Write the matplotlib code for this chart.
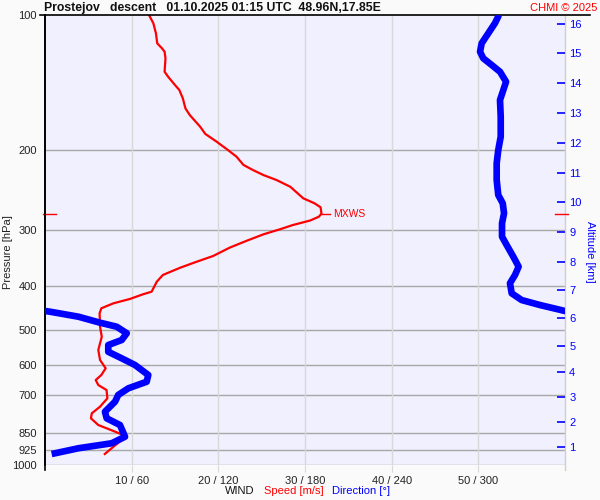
import numpy as np
import matplotlib
matplotlib.use('Agg')
import matplotlib.pyplot as plt

plt.rcParams['font.family'] = ['Liberation Sans', 'DejaVu Sans']

# wind speed profile [m/s] vs pressure [hPa]
speed_p = [100, 104.3, 109.8, 115.6, 118.6, 120.7, 124.8, 133.7, 137.1, 143.1,
           146.8, 153.1, 161.2, 166.8, 177.1, 183.8, 191.2, 199.5, 206.5, 215.4,
           221.1, 226.8, 232.6, 240.8, 255.5, 262.1, 267.5, 276.2, 280.7, 286.2,
           292.9, 299.4, 307.2, 317.3, 328.9, 343.2, 353.4, 364.4, 378.2, 391.4,
           412.0, 417.5, 427.6, 437.2, 448.5, 460.1, 492.8, 518.6, 555.2, 584.3,
           609.7, 631.0, 647.4, 664.2, 681.4, 710.9, 742.0, 767.6, 787.5, 815.0,
           843.3, 857.7, 880.0, 910.7, 945.3]
speed = [12.0, 12.5, 12.8, 12.95, 13.5, 13.8, 13.9, 13.8, 14.2, 15.0,
         15.5, 15.9, 16.2, 16.7, 17.9, 18.5, 19.8, 21.1, 22.1, 22.9,
         24.0, 25.2, 26.7, 28.3, 29.8, 31.1, 31.8, 31.9, 31.6, 30.6,
         28.6, 27.1, 25.2, 23.3, 21.3, 19.4, 17.5, 15.6, 13.6, 12.9,
         12.3, 11.3, 9.8, 7.9, 6.5, 6.3, 6.35, 6.55, 6.15, 6.35,
         7.0, 6.5, 5.85, 6.15, 7.1, 7.2, 6.35, 5.4, 5.3, 6.15,
         8.1, 9.0, 8.85, 7.9, 6.9]

# wind direction [deg] vs pressure [hPa]
dir_p = [100, 104.3, 109.8, 115.6, 120.7, 124.8, 129.2, 133.7, 140.7, 146.8,
         154.5, 168.3, 186.4, 199.5, 213.5, 232.6, 251.2, 262.1, 275.8, 290.4,
         310.9, 324.4, 344.4, 362.5, 378.2, 394.6, 415.4, 430.0, 441.1, 450.2,
         454.8, 456.4, 468.2, 482.8, 492.8, 509.6, 527.5, 541.3, 560.3, 579.4,
         599.5, 631.0, 653.1, 675.4, 698.8, 723.2, 761.3, 787.5, 815.0, 865.3,
         894.7, 917.9, 945.3]
direction = [314.3, 311.5, 306.9, 302.3, 301.2, 303.4, 309.3, 315.0, 319.2, 317.3,
             315.0, 315.5, 315.5, 313.8, 312.7, 312.7, 313.8, 316.9, 317.8, 316.4,
             316.4, 319.6, 324.2, 327.9, 325.4, 321.9, 323.1, 330.0, 342.7, 354.3,
             0.0, 3.5, 23.1, 38.1, 49.6, 56.6, 53.1, 43.8, 43.8, 53.1,
             62.3, 71.5, 70.4, 57.7, 50.7, 48.5, 41.5, 42.7, 51.9, 55.4,
             46.2, 23.1, 4.6]

# altitude [km] at pressure [hPa]
alt_km = list(range(1, 17))
alt_p = [910.7, 803.7, 705.0, 620.4, 543.1, 472.1, 408.4, 353.4, 303.0, 260.8,
         224.8, 192.8, 165.4, 141.8, 121.5, 104.7]

p_levels = [100, 200, 300, 400, 500, 600, 700, 850, 925, 1000]
x_ticks = [10, 20, 30, 40, 50]
x_labels = ['10 / 60', '20 / 120', '30 / 180', '40 / 240', '50 / 300']

title = 'Prostejov   descent   01.10.2025 01:15 UTC  48.96N,17.85E'
mxws_p = 276.2

fig = plt.figure(figsize=(6, 5), dpi=100, facecolor='#fafafa')
ax = fig.add_axes([45 / 600, 35 / 500, 520 / 600, 450 / 500])
ax.set_facecolor('#f0f0ff')
ax.set_yscale('log')
ax.set_xlim(0, 60)

# direction, on its own x scale (shares y with ax)
axd = ax.twiny()
axd.set_xlim(0, 360)
axd.axis('off')

# altitude axis, separate log y
axa = ax.twinx()
axa.set_yscale('log')

# grid
for p in p_levels[1:]:
    ax.axhline(p, color='#a8a8a8', lw=1, zorder=1)
for t in x_ticks:
    ax.axvline(t, color='#d8d8d8', lw=1, zorder=1)

for s in ['top', 'right', 'bottom']:
    ax.spines[s].set_visible(False)
ax.spines['left'].set_color('black')
ax.spines['left'].set_linewidth(1.2)
ax.axvline(0, ymin=-0.01, ymax=1, color='black', lw=1.2, clip_on=False)
ax.axvline(60, ymin=-0.012, ymax=1, color='#d0d0d0', lw=1, clip_on=False)
ax.axhline(100, xmin=-5 / 520, xmax=545 / 520, color='black', lw=1.2,
           clip_on=False, zorder=5)

# speed
ax.plot(speed, speed_p, color='red', lw=1.6, zorder=3)

# direction wrapped at 360
d = np.unwrap(np.array(direction), period=360)
for shift in (0, -360):
    axd.plot(d + shift, dir_p, color='#0000ff', lw=4.8, zorder=4,
             solid_capstyle='butt')

# MXWS marks
ax.plot([-0.25, 1.3], [mxws_p, mxws_p], color='red', lw=1, clip_on=False)
ax.plot([58.8, 60.3], [mxws_p, mxws_p], color='red', lw=1, clip_on=False)
smax = max(speed)
ax.plot([smax, smax + 0.95], [mxws_p, mxws_p], color='red', lw=1)
ax.text(smax + 1.3, mxws_p, 'MXWS', color='red', fontsize=7.5, va='center',
        ha='left')

# ticks (set last so the shared log axis keeps these labels)
ax.set_ylim(1000, 100)
ax.set_yticks(p_levels)
ax.set_yticklabels([str(p) for p in p_levels])
ax.yaxis.set_minor_locator(matplotlib.ticker.NullLocator())
ax.tick_params(axis='y', length=0, pad=6, labelsize=8, colors='#222222')
ax.set_xticks(x_ticks)
ax.set_xticklabels(x_labels)
ax.tick_params(axis='x', length=5, color='#d8d8d8', pad=3, labelsize=8,
               labelcolor='#222222')

axa.set_ylim(1000, 100)
axa.set_yticks(alt_p)
axa.set_yticklabels([str(a) for a in alt_km])
axa.yaxis.set_minor_locator(matplotlib.ticker.NullLocator())
axa.tick_params(axis='y', direction='in', length=6, width=1.2, color='#0000ff',
                labelcolor='#0000ff', labelsize=8, pad=3)
for s in axa.spines.values():
    s.set_visible(False)

# texts
fig.text(44 / 600, 1 - 8.5 / 500, title, fontsize=8.8, fontweight='bold',
         va='center', ha='left', color='#111111')
fig.text(597 / 600, 1 - 8 / 500, 'CHMI \u00a9 2025', fontsize=8, color='red',
         va='center', ha='right')
fig.text(8 / 600, 1 - 252 / 500, 'Pressure [hPa]', rotation=90, fontsize=8,
         va='center', ha='center', color='#222222')
fig.text(590 / 600, 1 - 252 / 500, 'Altitude [km]', rotation=270, fontsize=8,
         va='center', ha='center', color='#0000ff')
fig.text(225 / 600, 1 - 491 / 500, 'WIND', fontsize=8, va='center', ha='left',
         color='#111111')
fig.text(264 / 600, 1 - 491 / 500, 'Speed [m/s]', fontsize=8, va='center',
         ha='left', color='red')
fig.text(332 / 600, 1 - 491 / 500, 'Direction [\u00b0]', fontsize=8,
         va='center', ha='left', color='#0000ff')

fig.savefig('out.png', dpi=100, facecolor=fig.get_facecolor())
